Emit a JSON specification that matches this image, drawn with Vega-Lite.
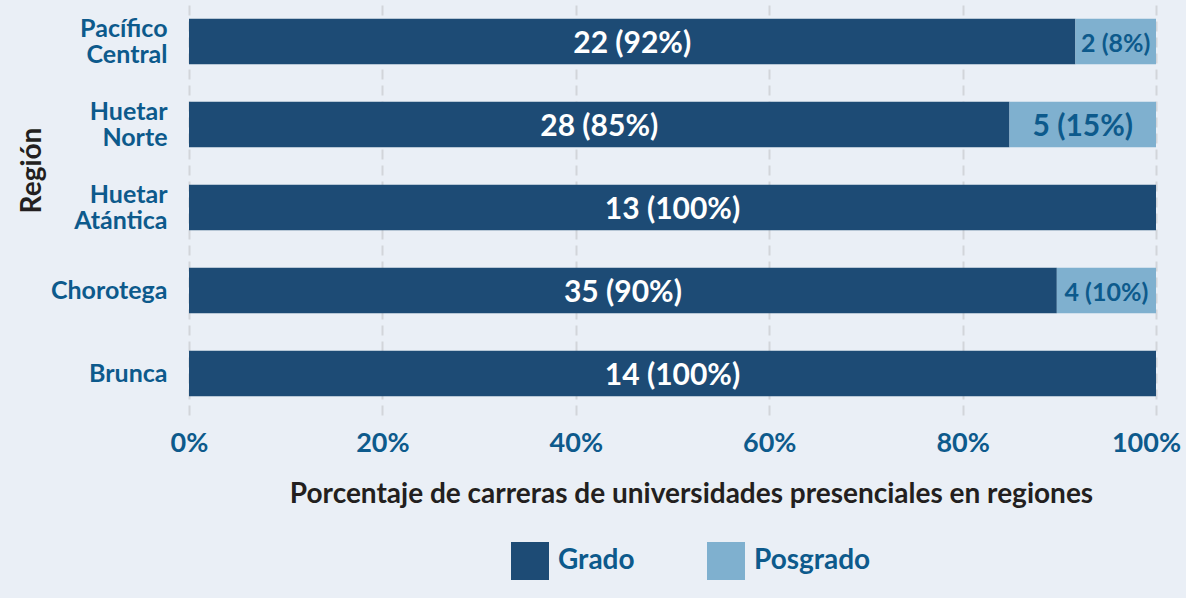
{
  "$schema": "https://vega.github.io/schema/vega-lite/v6.json",
  "width": 967,
  "height": 415,
  "autosize": {"type": "none"},
  "padding": {"left": 189, "top": 0, "right": 30, "bottom": 183},
  "background": "#eaeff6",
  "config": {"view": {"stroke": null}, "font": "Lato"},
  "data": {
    "values": [
      {"region": "Pacífico Central", "tipo": "Grado", "n": 22, "label": "22 (92%)"},
      {"region": "Pacífico Central", "tipo": "Posgrado", "n": 2, "label": "2 (8%)"},
      {"region": "Huetar Norte", "tipo": "Grado", "n": 28, "label": "28 (85%)"},
      {"region": "Huetar Norte", "tipo": "Posgrado", "n": 5, "label": "5 (15%)"},
      {"region": "Huetar Atántica", "tipo": "Grado", "n": 13, "label": "13 (100%)"},
      {"region": "Chorotega", "tipo": "Grado", "n": 35, "label": "35 (90%)"},
      {"region": "Chorotega", "tipo": "Posgrado", "n": 4, "label": "4 (10%)"},
      {"region": "Brunca", "tipo": "Grado", "n": 14, "label": "14 (100%)"}
    ]
  },
  "encoding": {
    "y": {
      "field": "region",
      "type": "nominal",
      "sort": ["Pacífico Central", "Huetar Norte", "Huetar Atántica", "Chorotega", "Brunca"],
      "scale": {"paddingInner": 0.45, "paddingOuter": 0.225},
      "title": "Región",
      "axis": {
        "labelExpr": "split(datum.label, ' ')",
        "labelFont": "Lato",
        "labelFontSize": 25,
        "labelFontWeight": "bold",
        "labelColor": "#0d5a8c",
        "labelLineHeight": 26,
        "labelPadding": 22,
        "labelOffset": {"condition": {"test": "indexof(datum.label, ' ') >= 0", "value": -13}, "value": 0},
        "ticks": false,
        "domain": false,
        "titleFont": "Lato",
        "titleFontSize": 28,
        "titleFontWeight": "bold",
        "titleColor": "#231f20",
        "titleAngle": -90,
        "titleX": -149,
        "titleY": 170,
        "titleAlign": "center",
        "titleBaseline": "alphabetic"
      }
    }
  },
  "layer": [
    {
      "mark": {"type": "bar"},
      "encoding": {
        "x": {
          "field": "n",
          "type": "quantitative",
          "stack": "normalize",
          "title": "Porcentaje de carreras de universidades presenciales en regiones",
          "axis": {
            "values": [0, 0.2, 0.4, 0.6, 0.8, 1],
            "format": ".0%",
            "labelFont": "Lato",
            "labelFontSize": 27,
            "labelFontWeight": "bold",
            "labelColor": "#0d5a8c",
            "labelPadding": 15,
            "labelFlush": false,
            "labelOffset": {"condition": {"test": "datum.value == 1", "value": -10}, "value": 0},
            "ticks": false,
            "domain": false,
            "grid": true,
            "gridColor": "#d2d5da",
            "gridDash": [10, 6],
            "gridWidth": 2,
            "titleFont": "Lato",
            "titleFontSize": 28,
            "titleFontWeight": "bold",
            "titleColor": "#231f20",
            "titleX": 502,
            "titleY": 87,
            "titleAlign": "center",
            "titleBaseline": "alphabetic"
          }
        },
        "color": {
          "field": "tipo",
          "type": "nominal",
          "scale": {"domain": ["Grado", "Posgrado"], "range": ["#1d4b75", "#7fb0cf"]},
          "legend": {
            "title": null,
            "orient": "none",
            "legendX": 322,
            "legendY": 542,
            "direction": "horizontal",
            "symbolType": "square",
            "symbolSize": 1444,
            "symbolStrokeWidth": 0,
            "symbolOpacity": 1,
            "labelFont": "Lato",
            "labelFontSize": 28,
            "labelFontWeight": "bold",
            "labelColor": "#0d5a8c",
            "labelOffset": 9,
            "columnPadding": 72
          }
        },
        "order": {"field": "tipo", "sort": "ascending"}
      }
    },
    {
      "mark": {"type": "text", "fontWeight": "bold", "font": "Lato", "dy": 2},
      "encoding": {
        "x": {"field": "n", "type": "quantitative", "stack": "normalize", "bandPosition": 0.5},
        "detail": {"field": "tipo"},
        "order": {"field": "tipo", "sort": "ascending"},
        "text": {"field": "label"},
        "color": {"condition": {"test": "datum.tipo == 'Grado'", "value": "#ffffff"}, "value": "#0d5a8c"},
        "size": {"condition": {"test": "datum.tipo == 'Grado' || datum.n >= 5", "value": 30}, "value": 25}
      }
    }
  ]
}
